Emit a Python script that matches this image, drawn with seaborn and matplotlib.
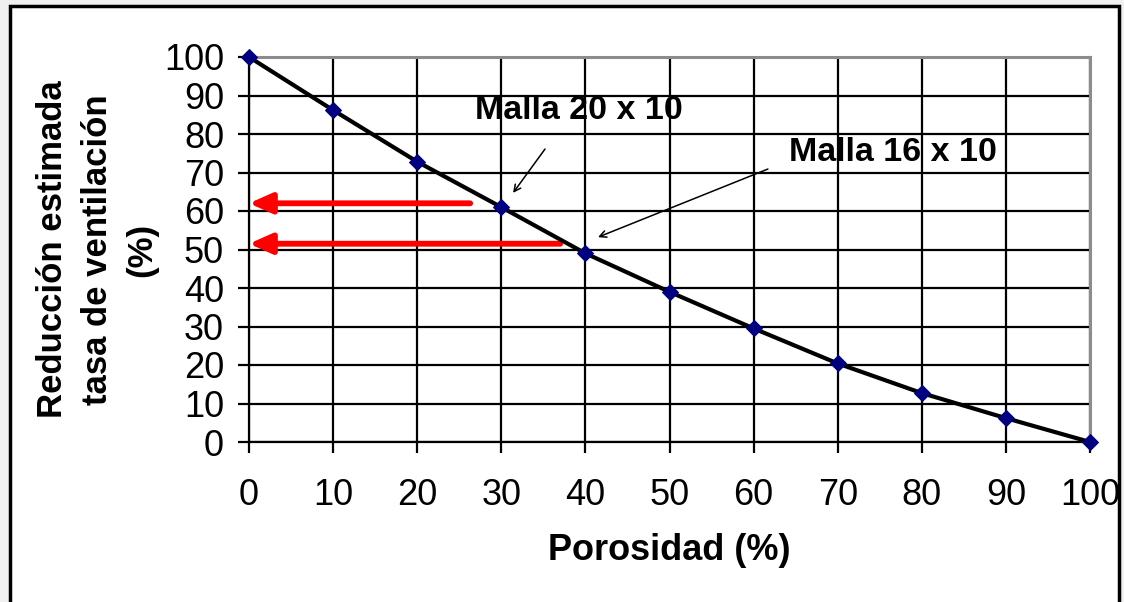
import numpy as np
import pandas as pd
import seaborn as sns
import matplotlib.pyplot as plt
from matplotlib.patches import Rectangle

# data
porosidad = [0, 10, 20, 30, 40, 50, 60, 70, 80, 90, 100]
reduccion = [100, 86.2, 72.8, 61, 49, 39, 29.5, 20.4, 12.7, 6.2, 0]
flechas_y = [62, 51.5]        # red arrows level
flechas_x = [26.3, 37]        # red arrows start
etiquetas = ["Malla 20 x 10", "Malla 16 x 10"]
etiq_pos = [(26.9, 86.2), (64.2, 75.3)]
etiq_desde = [(35.2, 76.1), (61.7, 70.9)]
etiq_hasta = [(31.4, 64.7), (41.5, 53.2)]

df = pd.DataFrame({"porosidad": porosidad, "reduccion": reduccion})

sns.set_style("white")
plt.rcParams["font.family"] = ["Liberation Sans", "DejaVu Sans"]
plt.rcParams.update({"text.color": "black", "axes.labelcolor": "black",
                     "xtick.color": "black", "ytick.color": "black"})

fig = plt.figure(figsize=(11.24, 6.02), dpi=100, facecolor="#f0f0f0")
marco = Rectangle((10 / 1124, -0.1), 1109 / 1124, 1.1 - 6 / 602,
                  transform=fig.transFigure, facecolor="white",
                  edgecolor="black", lw=2.5, zorder=-10)
fig.add_artist(marco)
ax = fig.add_axes([249 / 1124, 1 - 442 / 602, 841 / 1124, 385 / 602])
ax.set_facecolor("white")

ax.set_xlim(0, 100)
ax.set_ylim(0, 100)
ax.set_xticks(range(0, 101, 10))
ax.set_yticks(range(0, 101, 10))
ax.grid(True, color="black", lw=1.6)
ax.set_axisbelow(True)

for s in ["left", "bottom"]:
    ax.spines[s].set_color("black")
    ax.spines[s].set_linewidth(1.6)
for s in ["top", "right"]:
    ax.spines[s].set_color("#8c8c8c")
    ax.spines[s].set_linewidth(2.2)

ax.tick_params(axis="both", direction="out", length=8, width=1.6,
               bottom=True, left=True, color="black", labelcolor="black",
               labelsize=26)
ax.tick_params(axis="x", pad=18)
ax.tick_params(axis="y", pad=10)

sns.lineplot(data=df, x="porosidad", y="reduccion", ax=ax, color="black",
             lw=3, marker="D", markersize=8.5, markerfacecolor="#000080",
             markeredgecolor="#000080", clip_on=False, zorder=5)

# red arrows
for yv, xv in zip(flechas_y, flechas_x):
    ax.annotate("", xy=(0, yv), xytext=(xv, yv),
                arrowprops=dict(arrowstyle="-|>,head_length=0.45,head_width=0.2",
                                color="#ff0000", lw=4.2, mutation_scale=30,
                                shrinkA=0, shrinkB=0), zorder=4)

# labels with thin arrows
for txt, pos, a, b in zip(etiquetas, etiq_pos, etiq_desde, etiq_hasta):
    ax.text(pos[0], pos[1], txt, fontsize=24.5, fontweight="bold",
            ha="left", va="center", zorder=6)
    ax.annotate("", xy=b, xytext=a,
                arrowprops=dict(arrowstyle="->", color="black", lw=1.1,
                                mutation_scale=12, shrinkA=0, shrinkB=0),
                zorder=6)

ax.set_xlabel("Porosidad (%)", fontsize=26, fontweight="bold", labelpad=14)
ax.set_ylabel("Reducción estimada\ntasa de ventilación\n(%)", fontsize=25,
              fontweight="bold", labelpad=4, linespacing=1.45)

fig.savefig("out.png", dpi=100, facecolor=fig.get_facecolor())
